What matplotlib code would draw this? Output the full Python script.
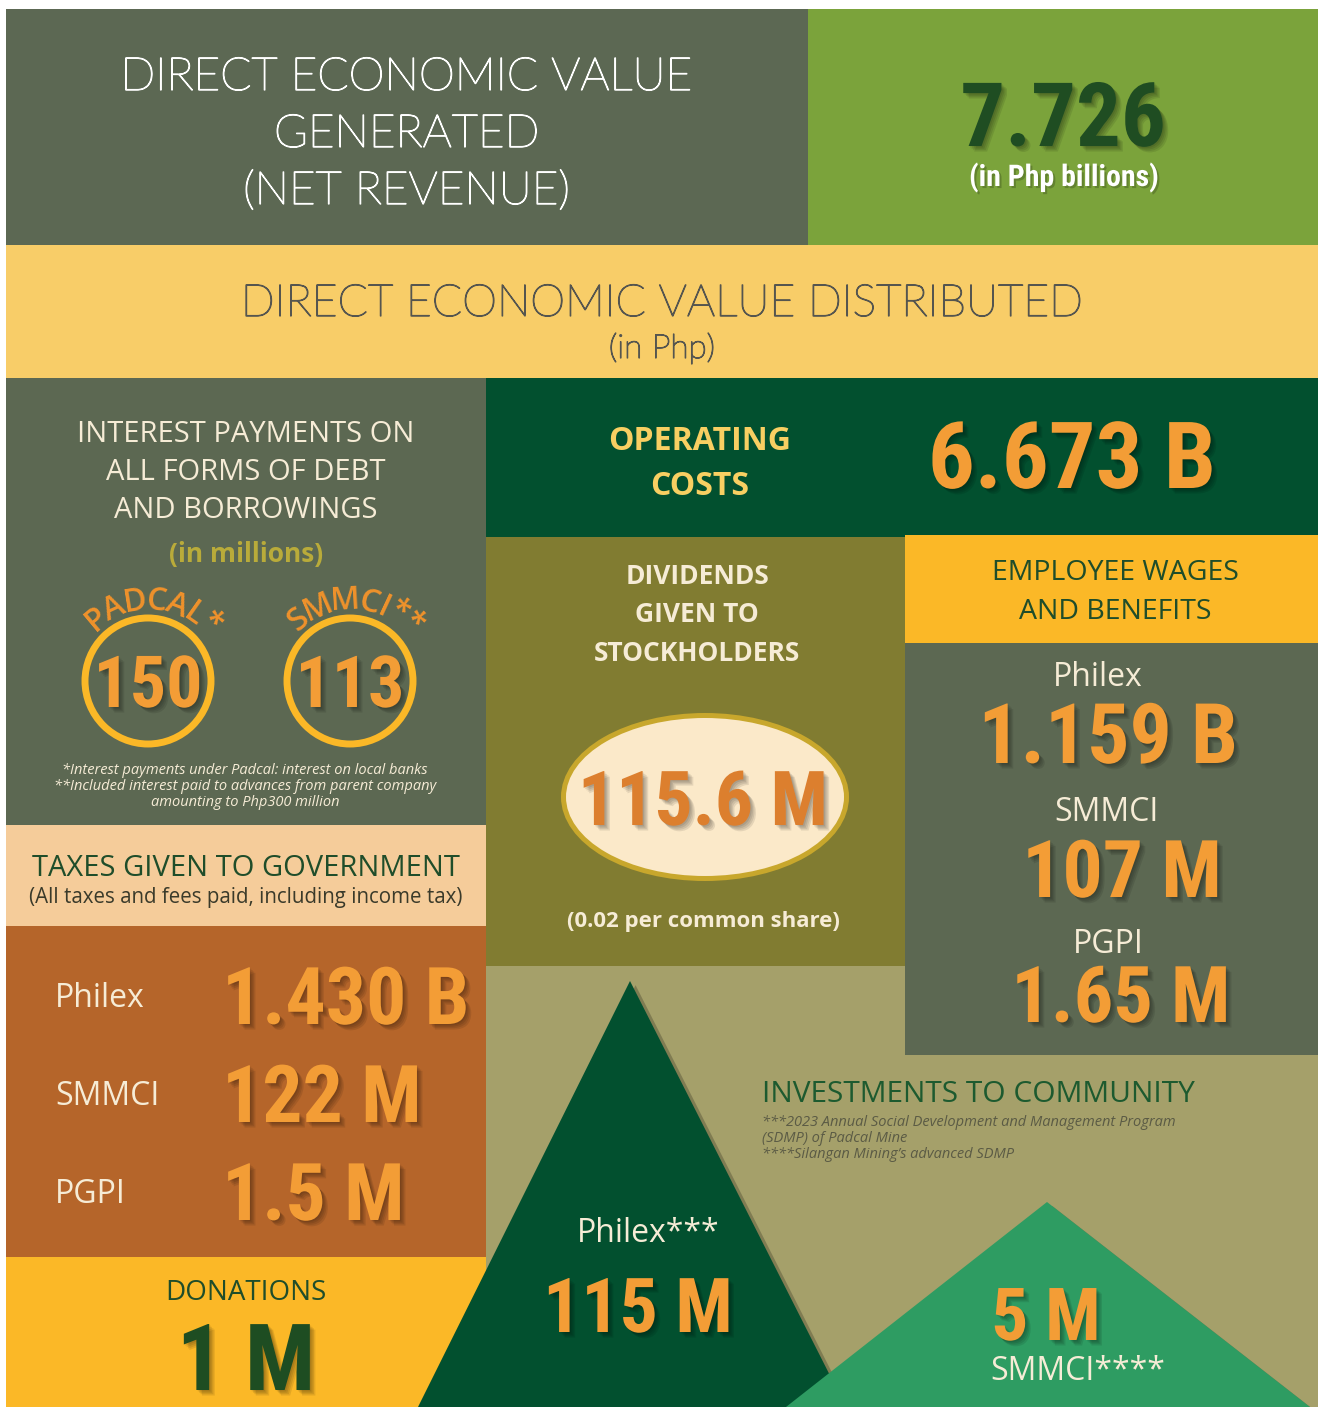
import numpy as np
import matplotlib
matplotlib.use("Agg")
import matplotlib.pyplot as plt
from matplotlib import font_manager as fm
from matplotlib.patches import Rectangle, Circle, Ellipse, Polygon
import matplotlib.patheffects as pe

# ---------------- data ----------------
generated_title = ["DIRECT ECONOMIC VALUE", "GENERATED", "(NET REVENUE)"]
generated_value = "7.726"
generated_unit = "(in Php billions)"
distributed_title = "DIRECT ECONOMIC VALUE DISTRIBUTED"
distributed_unit = "(in Php)"

interest_title = ["INTEREST PAYMENTS ON", "ALL FORMS OF DEBT", "AND BORROWINGS"]
interest_unit = "(in millions)"
interest_labels = ["PADCAL*", "SMMCI**"]
interest_values = ["150", "113"]
interest_notes = ["*Interest payments under Padcal: interest on local banks",
                  "**Included interest paid to advances from parent company",
                  "amounting to Php300 million"]

tax_title = "TAXES GIVEN TO GOVERNMENT"
tax_subtitle = "(All taxes and fees paid, including income tax)"
tax_entities = ["Philex", "SMMCI", "PGPI"]
tax_values = ["1.430 B", "122 M", "1.5 M"]

donations_title = "DONATIONS"
donations_value = "1 M"

opcost_title = ["OPERATING", "COSTS"]
opcost_value = "6.673 B"

dividend_title = ["DIVIDENDS", "GIVEN TO", "STOCKHOLDERS"]
dividend_value = "115.6 M"
dividend_note = "(0.02 per common share)"

wage_title = ["EMPLOYEE WAGES", "AND BENEFITS"]
wage_entities = ["Philex", "SMMCI", "PGPI"]
wage_values = ["1.159 B", "107 M", "1.65 M"]

community_title = "INVESTMENTS TO COMMUNITY"
community_notes = ["***2023 Annual Social Development and Management Program",
                   "(SDMP) of Padcal Mine",
                   "****Silangan Mining\u2019s advanced SDMP"]
community_entities = ["Philex***", "SMMCI****"]
community_values = ["115 M", "5 M"]

# ---------------- fonts ----------------
names = {f.name for f in fm.fontManager.ttflist}
COND = next((n for n in ["Liberation Sans Narrow", "Roboto Condensed"] if n in names), "Roboto")
LIGHT = "Lato" if "Lato" in names else "DejaVu Sans"
BODY = "Open Sans" if "Open Sans" in names else "DejaVu Sans"

# ---------------- colors ----------------
C_GRAY = "#5c6852"
C_LGREEN = "#7ba33b"
C_BAND = "#f8cd68"
C_PEACH = "#f5cc9a"
C_BROWN = "#b5652a"
C_YELLOW = "#fbb827"
C_DGREEN = "#02502f"
C_OLIVE = "#817c31"
C_KHAKI = "#a5a06a"
C_TRI2 = "#2e9c62"
C_ORANGE = "#f39d36"
C_CREAM = "#f6ecd6"
C_TXTGREEN = "#1f4d2a"

fig = plt.figure(figsize=(13.19, 14.07), dpi=100)
ax = fig.add_axes([0, 0, 1, 1])
ax.set_xlim(0, 1319)
ax.set_ylim(1407, 0)
ax.axis("off")
fig.patch.set_facecolor("white")


def rect(x0, y0, x1, y1, c):
    ax.add_patch(Rectangle((x0, y0), x1 - x0, y1 - y0, facecolor=c, edgecolor="none", zorder=1))


shadow = [pe.SimplePatchShadow(offset=(o, -o), shadow_rgbFace="black", alpha=0.09)
          for o in (1, 2, 3, 4)] + [pe.Normal()]
soft = [pe.SimplePatchShadow(offset=(1.5, -1.5), shadow_rgbFace="black", alpha=0.2), pe.Normal()]

SCALE = 0.94


def big(x, y, s, size, color=C_ORANGE, ha="center"):
    ax.text(x, y, s, fontsize=size * SCALE, family=COND, weight="bold", color=color,
            ha=ha, va="baseline", zorder=5, path_effects=shadow)


def txt(x, y, s, size, color, weight="normal", family=None, ha="center", style="normal", va="baseline", fx=None):
    ax.text(x, y, s, fontsize=size, family=family or BODY, weight=weight, color=color,
            ha=ha, va=va, style=style, zorder=5, path_effects=fx)


def thin(x, y, s, size, color):
    txt(x, y, s, size, color, weight="light", family=LIGHT,
        fx=[pe.withStroke(linewidth=0.9, foreground=color)])


# ---------------- panels ----------------
rect(6, 9, 808, 245, "#5c6853")
rect(808, 9, 1318, 245, C_LGREEN)
rect(6, 245, 1318, 378, C_BAND)
rect(6, 378, 486, 825, C_GRAY)
rect(6, 825, 486, 926, C_PEACH)
rect(6, 926, 486, 1257, C_BROWN)
rect(6, 1257, 486, 1407, C_YELLOW)
rect(486, 378, 1318, 537, C_DGREEN)
rect(486, 537, 905, 966, C_OLIVE)
rect(486, 966, 1318, 1407, C_KHAKI)
rect(905, 535, 1318, 643, C_YELLOW)
rect(905, 643, 1318, 1055, C_GRAY)

# ---------------- header ----------------
for i, line in enumerate(generated_title):
    thin(407, 90 + 57 * i, line, 33, "white")
big(1063, 146, generated_value, 68, color="#1f4d22")
txt(1064, 186, generated_unit, 21.5, "white", weight="bold", family=COND, fx=soft)
thin(662, 316, distributed_title, 32, "#55554f")
thin(662, 358, distributed_unit, 24, "#55554f")

# ---------------- interest ----------------
for i, line in enumerate(interest_title):
    txt(246, 442 + 38 * i, line, 21, C_CREAM)
txt(246, 562, interest_unit, 19, "#b9ab3a", weight="bold")

widths = {"P": 20, "A": 22, "D": 22, "C": 20, "L": 17, "S": 19, "M": 28, "I": 11, "*": 17}
centers = [148, 350]
for cx, lab, val in zip(centers, interest_labels, interest_values):
    cy = 681
    ax.add_patch(Circle((cx, cy), 63, facecolor="none", edgecolor=C_YELLOW, lw=5, zorder=3))
    big(cx, 707, val, 55)
    r = 80.0
    ang = 137.0
    for ch in lab:
        w = widths.get(ch, 20)
        a = ang - np.degrees((w / 2) / r)
        rr = r + (4 if ch == "*" else 0)
        x = cx + rr * np.cos(np.radians(a))
        y = cy - rr * np.sin(np.radians(a))
        ax.text(x, y, ch, fontsize=23, family=BODY, weight="semibold", color="#f0922b",
                rotation=a - 90, ha="center", va="center", rotation_mode="anchor", zorder=5)
        ang -= np.degrees(w / r)

for i, line in enumerate(interest_notes):
    txt(245, 770 + 16 * i, line, 10.5, C_CREAM, style="italic", va="center")

# ---------------- taxes ----------------
txt(246, 876, tax_title, 21, C_TXTGREEN)
txt(246, 903, tax_subtitle, 14.8, "#3a3a2a")
for i, (ent, val) in enumerate(zip(tax_entities, tax_values)):
    base = 1024 + 98 * i
    txt(55, base - 17, ent, 23, C_CREAM, ha="left")
    big(222, base, val, 61, ha="left")

# ---------------- donations ----------------
txt(246, 1300, donations_title, 20, C_TXTGREEN)
big(246, 1390, donations_value, 71, color="#1e4d22")

# ---------------- operating costs ----------------
for i, line in enumerate(opcost_title):
    txt(700, 450 + 45 * i, line, 23, "#f8cf62", weight="bold")
big(1072, 488, opcost_value, 71)

# ---------------- dividends ----------------
for i, line in enumerate(dividend_title):
    txt(697, 584 + 38.5 * i, line, 19, C_CREAM, weight="bold")
ax.add_patch(Ellipse((705, 797), 283, 163, facecolor="#fbe9c9", edgecolor="#c8a72c", lw=3.6, zorder=3))
big(703, 825, dividend_value, 58, color="#dc7f2e")
txt(703, 927, dividend_note, 16, C_CREAM, weight="bold")

# ---------------- employee wages ----------------
for i, line in enumerate(wage_title):
    txt(1115, 580 + 39 * i, line, 20.5, C_TXTGREEN)
wage_label_base = [686, 821, 953]
wage_value_base = [763, 897, 1022]
wage_label_x = [1098, 1106, 1108]
wage_value_x = [1108, 1122, 1121]
wage_sizes = [64, 61, 60]
for ent, val, lb, vb, lx, vx, sz in zip(wage_entities, wage_values, wage_label_base,
                                        wage_value_base, wage_label_x, wage_value_x, wage_sizes):
    txt(lx, lb, ent, 23, C_CREAM)
    big(vx, vb, val, sz)

# ---------------- community ----------------
tri_fx = [pe.SimplePatchShadow(offset=(4, -3), shadow_rgbFace="black", alpha=0.22), pe.Normal()]
ax.add_patch(Polygon([(418, 1407), (630, 981), (846, 1407)], closed=True,
                     facecolor=C_DGREEN, edgecolor="none", zorder=2, path_effects=tri_fx))
ax.add_patch(Polygon([(786, 1407), (1047, 1202), (1310, 1407)], closed=True,
                     facecolor=C_TRI2, edgecolor="none", zorder=2.5, path_effects=tri_fx))
txt(762, 1102, community_title, 21.5, "#1d5a2f", ha="left")
for i, line in enumerate(community_notes):
    txt(762, 1123 + 16 * i, line, 10.5, "#5b5b45", ha="left", style="italic", va="center")

txt(648, 1242, community_entities[0], 23, C_CREAM)
big(638, 1332, community_values[0], 58)
big(1046, 1340, community_values[1], 56)
txt(1078, 1380, community_entities[1], 23, C_CREAM)

fig.savefig("out.png", dpi=100, facecolor="white")
